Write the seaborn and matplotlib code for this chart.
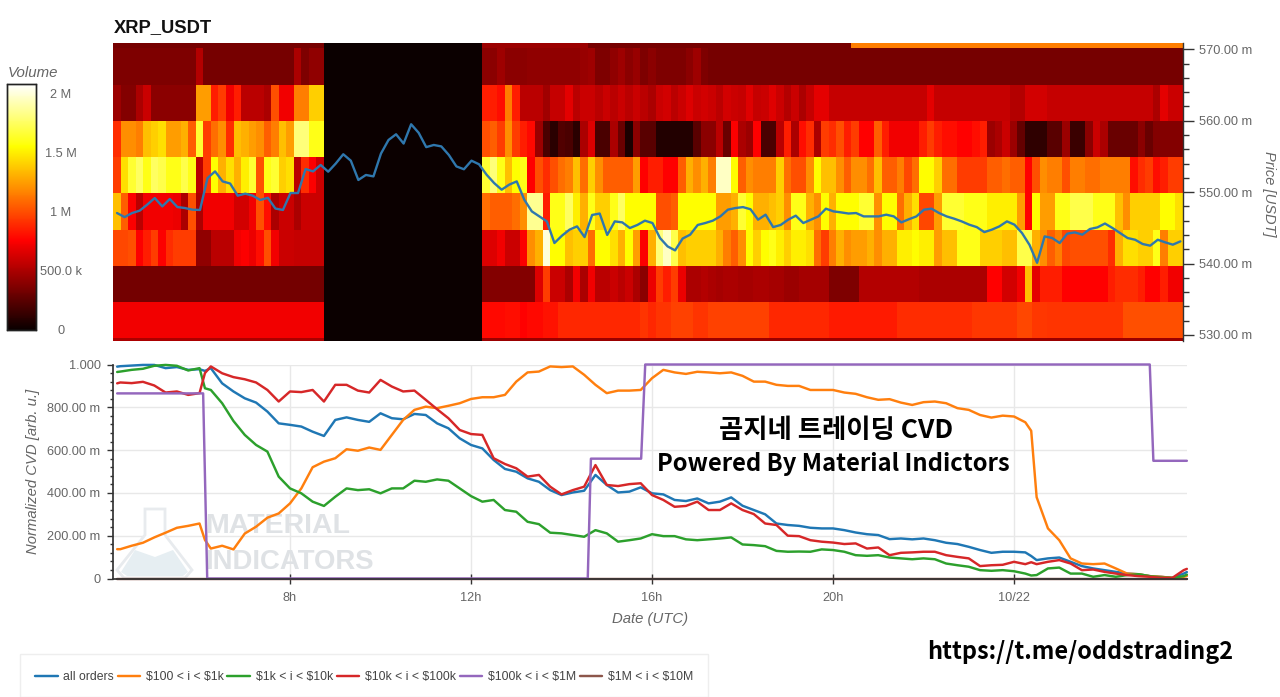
import numpy as np
import pandas as pd
import matplotlib
matplotlib.use("Agg")
import matplotlib.pyplot as plt
from matplotlib.patches import Polygon, Rectangle
from matplotlib.ticker import MultipleLocator
import seaborn as sns

W, H = 1280, 697

# ---- heatmap, volume in millions, one list per price row (top to bottom), 142 ten minute columns
gap = [0.0] * 21

left_0 = [.34] * 28
left_1 = [.36] * 11 + [.52] + [.34] * 12 + [.5, .36, .42, .42]
left_2 = [.45, .38, .38, .5, .6] + [.4] * 6 + [1.25, 1.25, .85, .95, .72, .85, .55, .55, .55, .5, 1.0, .72, .72, 1.15, 1.15, 1.4, 1.4]
left_3 = [.9, 1.2, 1.2, 1.15, 1.35, 1.4, 1.45, 1.25, 1.25, 1.3, 1.05, 1.65, .95, 1.1, 1.2, .9, 1.35, 1.3, 1.25, 1.2, 1.05, 1.15, 1.35, 1.25, 1.8, 1.8, 1.6, 1.6]
left_4 = [.95, 1.45, 1.65, 1.75, 1.6, 1.75, 1.7, 1.6, 1.6, 1.7, 1.6, .55, .95, 1.55, 1.3, 1.45, 1.3, 1.5, 1.65, 1.0, 1.6, 1.65, 1.4, 1.45, .55, .9, .75, .6]
left_5 = [1.35, 1.05, .75, .55, .72, .72, .72, .72, .7, .5, 1.0, .5, .72, .72, .72, .72, .62, .62, .72, 1.0, .8, .5, .6, .6, .5, .6, .6, .6]
left_6 = [.98, .98, 1.0, .75, .85, .95, .75, .9, .95, .95, .95, .42, .42, .55, .55, .55, .72, .75, .7, .8, 1.0, .72, .6, .6, .58, .58, .58, .58]
left_7 = [.33] * 28
left_8 = [.72] * 28
left_9 = [.5] * 28

right_0 = [.45] * 14 + [.34] * 35 + [1.15] * 44
right_1 = [.4, .4, .46, .4, .4, .4, .42, .42, .42, .42, .42, .42, .42, .44, .46, .36, .36, .42, .46, .4, .44, .36, .4, .36, .36, .36, .36, .4, .46, .36] + [.34] * 16 + [.34] * 47
right_2 = [.85, .85, .8, 1.15, .85, .55, .55, .55, .47, .58, .58, .68, .55, .6, .6, .55, .6, .55, .6, .55, .6, .55, .5, .6, .62, .55, .6, .65, .6, .62, .6, .55, .62, .6, .58, .66, .58, .6, .66, .6, .52, .6, .5, .58, .68, .68] \
    + [.58] * 13 + [.68] + [.58] * 10 + [.52, .52, .62, .62, .62] + [.58] * 14 + [.5, .68, .6, .6]
right_3 = [1.0, 1.05, .95, 1.2, .95, .85, .78, .45, .2, .1, .22, .2, .1, .5, .65, .2, .2, .5, .3, .05, .4, .25, .25, .08, .08, .08, .08, .08, .25, .4, .4, .55, .3, .75, .5, .45, .76, .2, .2, .55, .85, .5, .8, .9, .5, .95] \
    + [.9, 1.0, .85, .95, .76, .76, 1.05, .85, .72, .72, .72, .72, .85, .95, .85, .8, .8, .76, .76, .8, .85, .45, .5, .6, .45, .28, .12, .12, .12, .25, .25, .45, .15, .15, .4, .6, .5, .3, .3, .3, .3, .4, .3, .38, .38, .38, .38]
right_4 = [1.65, 1.8, 1.6, 1.35, 1.55, 1.6, .76, 1.0, .9, 1.0, 1.1, 1.15, 1.35, 1.1, 1.4, 1.2, 1.05, 1.05, 1.05, 1.05, 1.25, .76, .85, .85, .76, .76, 1.05, 1.3, 1.2, 1.3, 1.15, 1.95, 1.95, 1.55, 1.05, 1.2, 1.15, 1.15, 1.15, 1.4, 1.1, 1.0, 1.0, 1.2, 1.55, 1.35] \
    + [1.35, 1.2, 1.05, 1.2, 1.2, 1.1, 1.35, 1.05, 1.05, 1.15, .98, 1.1, 1.55, 1.55, 1.4, 1.1, 1.1, .95, .95, .95, .95, 1.05, 1.05, 1.1, 1.05, 1.05, .76, 1.0, 1.2, 1.15, 1.15, 1.0, 1.15, 1.15, 1.1, 1.1, 1.15, 1.15, 1.15, 1.15, .8, .9, .95, .8, .85, .95, .95]
right_5 = [1.1, 1.05, 1.05, 1.05, 1.1, 1.2, 1.85, 1.85, .85, 1.6, 1.6, 1.75, 1.5, 1.3, 1.6, 1.4, 1.4, 1.6, 1.75, 1.55, 1.55, 1.55, 1.55, 1.0, 1.0, 1.05, 1.55, 1.55, 1.55, 1.55, 1.55, 1.25, 1.25, 1.3, 1.65, 1.55, 1.3, 1.3, 1.35, 1.4, 1.2, 1.6, 1.6, 1.3, 1.2, 1.55] \
    + [1.3, 1.55, 1.55, 1.55, 1.65, 1.65, 1.2, 1.55, 1.55, 1.1, 1.3, 1.45, .98, .98, 1.25, 1.65, 1.65, 1.65, 1.6, 1.6, 1.6, 1.5, 1.5, 1.5, 1.5, 1.25, .76, 1.55, 1.25, 1.25, 1.6, 1.6, 1.7, 1.7, 1.7, 1.6, 1.6, 1.6, 1.35, 1.2, 1.4, 1.4, 1.4, 1.4, 1.55, 1.55, 1.45]
right_6 = [.65, .65, .72, .6, .6, .75, 1.2, 1.3, 2.0, 1.55, 1.55, 1.35, 1.4, 1.4, 1.1, 1.55, 1.55, 1.45, 1.3, 1.55, 1.25, .75, 1.3, 1.8, 1.95, 1.7, 1.35, 1.4, 1.4, 1.4, 1.4, 1.3, 1.15, 1.05, 1.2, 1.55, 1.4, 1.55, 1.6, 1.5, 1.4, 1.5, 1.5, 1.45, 1.1, .95] \
    + [1.15, 1.3, 1.2, 1.25, 1.25, 1.3, 1.2, 1.3, 1.3, 1.5, 1.5, 1.55, 1.5, 1.5, 1.25, 1.35, 1.35, 1.6, 1.6, 1.6, 1.4, 1.4, 1.4, 1.35, 1.35, 1.7, 1.7, 1.3, 1.2, 1.05, 1.15, .98, 1.0, 1.0, 1.0, 1.0, 1.0, .9, 1.3, 1.45, 1.45, 1.4, 1.4, 1.6, 1.15, 1.4, 1.4]
right_7 = [.38] * 7 + [.65, .95, .6, .6, .5, .72, .5, .72, .55, .55, .6, .55, .6, .5, .4, .7, .95, .85, .95, .7] \
    + [.5, .5, .52, .5, .48, .5, .5, .48, .48, .5, .5, .48, .48, .45, .45, .48, .48, .48, .48] \
    + [.36] * 4 + [.52] * 8 + [.5] * 9 + [.76, .76, .62, .62, .72, 1.35, .68, .85, .85, .85] + [.76] * 6 + [.85, .9, .9, .9, .85, .76, .76, .85, .72, .72]
right_8 = [.78, .78, .78, .8, .8, .76, .78, .78, .82, .82] + [.88] * 11 + [.92, .88, .92, .92, .96, .96, .96, .92, .92] + [.96] * 8 + [.88] * 8 \
    + [.84] * 9 + [.9] * 10 + [.93] * 6 + [.98, .98, .93, .93] + [.92] * 10 + [1.0] * 8
right_9 = [.45] * 93

lefts = [left_0, left_1, left_2, left_3, left_4, left_5, left_6, left_7, left_8, left_9]
rights = [right_0, right_1, right_2, right_3, right_4, right_5, right_6, right_7, right_8, right_9]
volume = pd.DataFrame([a + gap + b for a, b in zip(lefts, rights)])

# ---- price line, one value every 10 min from 4.18h
price_start = 4.177
price = [547.07, 546.5, 547.07, 547.4, 548.24, 549.17, 548.0, 549.03, 547.91, 547.77, 547.54, 547.5, 551.97, 552.9, 551.5,
         551.2, 549.5, 549.78, 549.5, 548.9, 549.2, 547.7, 547.5, 549.87, 549.87, 553.23, 552.9, 553.8, 552.86,
         554.0, 555.3, 554.4, 551.7, 552.4, 552.2, 555.4, 557.3, 558.1, 556.8, 559.5, 558.3, 556.3, 556.6, 556.4, 555.2,
         553.6, 553.2, 554.4, 553.9,
         552.44, 551.27, 550.34, 551.04, 551.5, 548.94, 547.3, 546.6, 545.9, 542.87, 543.9, 544.74, 545.2, 543.7, 546.8,
         547.0, 544.0, 545.9, 545.76, 544.97, 545.4, 546.0, 545.67, 543.57, 542.4, 541.84, 543.5, 544.04, 545.4, 545.67,
         546.0, 546.6, 547.54, 547.77, 547.9, 547.6, 546.14, 546.84, 545.1, 545.4, 546.14, 546.7, 545.67, 546.14, 546.6,
         547.68, 547.3, 547.16, 547.0, 547.07, 546.6, 546.6, 546.6, 546.84, 546.6, 545.76, 546.2, 546.6, 547.54, 547.68,
         547.07, 546.6, 546.28, 545.9, 545.44, 545.1, 544.4, 544.74, 545.2, 545.9, 545.44, 544.27, 542.6, 540.1, 543.8,
         543.57, 542.87, 544.18, 544.36, 544.04, 544.83, 545.06, 545.6, 544.97, 544.27, 543.57, 543.33, 542.73, 542.5,
         543.33, 542.96, 542.64, 543.1]
price_hours = [price_start + i / 6 for i in range(len(price))]

# ---- CVD lines
cvd_hours = sorted(list(np.arange(4.25, 27.76, 0.25)) + [4.18, 6.12, 24.38, 27.82])
cvd_all = [.99, .992, .995, .998, .998, .983, .988, .975, .978, .97,
           .983, .912, .874, .842, .822, .78, .725, .718, .71, .686, .666, .741, .753, .741, .732, .772, .749, .744, .769, .764, .725, .702, .655, .624,
           .608, .554, .512, .499, .468, .452, .413, .39, .402, .41, .484, .437, .402, .406, .426, .398,
           .393, .367, .362, .374, .351, .359, .379, .34, .32, .3, .257, .25, .246, .237, .234, .234,
           .226, .215, .207, .203, .184, .187, .183, .187, .179, .167, .161, .148, .133, .12, .125, .125, .122, .105,
           .086, .094, .098, .078, .058, .047, .039, .031, .023, .02, .011, .008, .002, .023, .03]
cvd_100 = [.137, .137, .153, .167, .192, .214, .237, .246, .257, .18,
           .14, .153, .136, .21, .242, .284, .304, .351, .421, .52, .546, .562, .604, .597, .612, .601, .671, .741, .788, .803, .796, .807, .819, .839,
           .847, .847, .858, .92, .963, .967, .991, .988, .991, .952, .905, .866, .878, .878, .881, .936,
           .975, .963, .956, .966, .963, .959, .963, .947, .92, .92, .905, .9, .9, .881, .881, .881,
           .869, .863, .847, .835, .838, .822, .811, .824, .827, .819, .796, .788, .764, .752, .761, .757, .73, .69,
           .38, .234, .179, .094, .07, .067, .07, .047, .023, .02, .011, .008, .003, .008, .012]
cvd_1k = [.965, .967, .975, .98, .994, .998, .994, .972, .983, .889,
          .881, .819, .736, .671, .624, .593, .476, .421, .398, .359, .339, .382, .421, .413, .417, .398, .421, .421, .457, .452, .463, .457, .421, .385,
          .359, .367, .32, .312, .265, .254, .214, .211, .203, .195, .226, .211, .172, .179, .187, .207,
          .198, .198, .183, .179, .183, .187, .192, .159, .156, .151, .129, .125, .126, .125, .136, .133,
          .125, .109, .106, .109, .098, .094, .09, .094, .09, .07, .062, .055, .039, .036, .039, .034, .023, .014,
          .016, .047, .051, .023, .023, .008, .016, .008, .016, .02, .011, .005, .003, .011, .018]
cvd_10k = [.912, .916, .913, .919, .902, .869, .874, .858, .866, .96,
           .991, .959, .941, .931, .916, .881, .827, .874, .871, .881, .827, .905, .905, .878, .869, .928, .897, .874, .878, .835, .791, .749, .694, .675,
           .671, .562, .535, .515, .476, .484, .429, .393, .413, .429, .53, .437, .432, .441, .445, .39,
           .367, .335, .339, .359, .32, .32, .351, .32, .301, .257, .25, .2, .198, .179, .172, .168,
           .161, .164, .14, .145, .109, .12, .122, .125, .125, .109, .101, .094, .058, .062, .064, .078, .067, .076,
           .067, .078, .086, .07, .039, .042, .031, .023, .016, .011, .008, .003, .003, .039, .045]
cvd_1m = [0.0] * len(cvd_hours)

# purple steps are single jumps, so they keep their own time points
hours_100k = [4.18, 6.08, 6.17, 14.58, 14.65, 15.76, 15.85, 27.0, 27.08, 27.82]
cvd_100k = [.865, .865, 0, 0, .56, .56, 1.0, 1.0, .55, .55]

legend_names = ["all orders", r"\$100 < i < \$1k", r"\$1k < i < \$10k", r"\$10k < i < \$100k", r"\$100k < i < \$1M", r"\$1M < i < \$10M"]
legend_colors = ["#1f77b4", "#ff7f0e", "#2ca02c", "#d62728", "#9467bd", "#8c564b"]

# y ticks
price_ticks = [530, 540, 550, 560, 570]
cvd_ticks = [0, .2, .4, .6, .8, 1.0]
cvd_labels = ["0", "200.00 m", "400.00 m", "600.00 m", "800.00 m", "1.000"]
time_ticks = [8, 12, 16, 20, 24]
time_labels = ["8h", "12h", "16h", "20h", "10/22"]
volume_ticks = [0, .5, 1, 1.5, 2]
volume_labels = ["0", "500.0 k", "1 M", "1.5 M", "2 M"]

sns.set_theme(style="white")
plt.rcParams["font.family"] = ["Liberation Sans", "DejaVu Sans"]
gray = "#666666"


def box(l, t, r, b):
    return [l / W, 1 - b / H, (r - l) / W, (b - t) / H]


fig = plt.figure(figsize=(W / 100, H / 100), dpi=100)

# heatmap + colorbar
ax_heat = fig.add_axes(box(113, 43, 1183, 341))
cax = fig.add_axes(box(7, 84, 36, 330))
sns.heatmap(volume, ax=ax_heat, cmap="hot", vmin=0, vmax=2.08, cbar_ax=cax,
            xticklabels=False, yticklabels=False, rasterized=True)
ax_heat.set_ylim(9.07, 0.85)
ax_heat.set_xlabel("")
ax_heat.set_ylabel("")
ax_heat.tick_params(length=0)

cax.yaxis.set_ticks_position("right")
cax.set_yticks(volume_ticks)
cax.set_yticklabels(volume_labels, ha="center", color=gray, fontsize=9.2)
cax.tick_params(axis="y", which="major", direction="in", length=4, width=1.2, color="#111111", pad=18, right=True, left=False)
for s in cax.spines.values():
    s.set_visible(True)
    s.set_color("#222222")
    s.set_linewidth(1)
fig.text(8 / W, 1 - 73 / H, "Volume", style="italic", color=gray, fontsize=10.8, va="center")
fig.text(114 / W, 1 - 28 / H, "XRP_USDT", weight="bold", color="#111111", fontsize=13.2, va="center")

# price line over the heatmap
ax_price = fig.add_axes(box(113, 43, 1183, 341), facecolor="none")
sns.lineplot(x=price_hours, y=price, ax=ax_price, color="#2f77ad", linewidth=1.7, estimator=None, clip_on=False)
ax_price.set_xlim(4.088, 27.735)
ax_price.set_ylim(529.15, 570.88)
ax_price.set_xticks([])
ax_price.yaxis.tick_right()
ax_price.set_yticks(price_ticks)
ax_price.set_yticklabels([f"{p}.00 m" for p in price_ticks], color=gray, fontsize=9.2)
ax_price.yaxis.set_minor_locator(MultipleLocator(2))
ax_price.tick_params(axis="y", which="major", direction="out", length=8, width=1, color="#333333", pad=3.5, right=True, left=False)
ax_price.tick_params(axis="y", which="minor", direction="out", length=4.5, width=1, color="#333333", right=True, left=False)
for side in ["left", "top", "bottom"]:
    ax_price.spines[side].set_visible(False)
ax_price.spines["right"].set_visible(True)
ax_price.spines["right"].set_color("#333333")
ax_price.spines["right"].set_linewidth(1)
fig.text(1269 / W, 1 - 194 / H, "Price [USDT]", style="italic", rotation=270, color=gray, fontsize=10.5, ha="center", va="center")

# CVD panel
ax_cvd = fig.add_axes(box(113, 364.5, 1187, 578.5))
frames = []
for name, xs, ys in zip(legend_names,
                        [cvd_hours, cvd_hours, cvd_hours, cvd_hours, hours_100k, cvd_hours],
                        [cvd_all, cvd_100, cvd_1k, cvd_10k, cvd_100k, cvd_1m]):
    frames.append(pd.DataFrame({"hours": xs, "cvd": ys, "series": name}))
cvd_df = pd.concat(frames, ignore_index=True)
sns.lineplot(data=cvd_df, x="hours", y="cvd", hue="series", hue_order=legend_names, palette=legend_colors,
             ax=ax_cvd, linewidth=1.75, estimator=None, zorder=3)
for line in ax_cvd.get_lines():
    line.set_clip_on(False)
ax_cvd.get_lines()[5].set_zorder(2.5)
ax_cvd.set_xlim(4.088, 27.823)
ax_cvd.set_ylim(0, 1)
ax_cvd.grid(True, color="#e8e8e8", linewidth=1)
ax_cvd.set_axisbelow(True)
ax_cvd.set_xticks(time_ticks)
ax_cvd.set_xticklabels(time_labels, color=gray, fontsize=9.2)
ax_cvd.set_yticks(cvd_ticks)
ax_cvd.set_yticklabels(cvd_labels, color=gray, fontsize=9.2)
ax_cvd.yaxis.set_minor_locator(MultipleLocator(0.04))
ax_cvd.tick_params(axis="y", which="major", direction="out", length=4, width=1, color="#333333", pad=5, left=True)
ax_cvd.tick_params(axis="y", which="minor", direction="out", length=2.5, width=1, color="#333333", left=True)
ax_cvd.tick_params(axis="x", direction="inout", length=7, width=1, color="#333333", pad=6, bottom=True)
ax_cvd.spines["top"].set_visible(False)
ax_cvd.spines["right"].set_visible(False)
ax_cvd.spines["left"].set_color("#333333")
ax_cvd.spines["bottom"].set_color("#333333")
ax_cvd.spines["bottom"].set_zorder(6)
ax_cvd.set_xlabel("Date (UTC)", style="italic", color=gray, fontsize=10.7, labelpad=6)
ax_cvd.set_ylabel("Normalized CVD [arb. u.]", style="italic", color=gray, fontsize=10.7, labelpad=5)

# legend
handles, labels = ax_cvd.get_legend_handles_labels()
ax_cvd.get_legend().remove()
fig.add_artist(Rectangle((20 / W, 0), 688 / W, 43 / H, transform=fig.transFigure, fc="white", ec="#eeeeee", lw=1))
leg = fig.legend(handles, labels, ncol=6, loc="center", bbox_to_anchor=(364 / W, 1 - 677 / H), frameon=False,
                 fontsize=8.85, handlelength=1.85, handletextpad=0.45, columnspacing=0.3, borderpad=0)
for t in leg.get_texts():
    t.set_color("#444444")

# watermark behind the lines
wm = "#dfe2e5"
fig_tf = fig.transFigure


def pts(xy):
    return [(x / W, 1 - y / H) for x, y in xy]


ax_cvd.add_patch(Polygon(pts([(145, 509), (165, 509), (165, 535), (192, 570), (185, 578), (124, 578), (117, 570), (145, 535)]),
                         closed=True, transform=fig_tf, fc="white", ec="#e8ebee", lw=2, zorder=1, clip_on=False))
ax_cvd.add_patch(Polygon(pts([(135, 550), (155, 557), (173, 550), (188, 572), (183, 576), (127, 576), (121, 572)]),
                         closed=True, transform=fig_tf, fc="#e6eef2", ec="none", zorder=1, clip_on=False))
ax_cvd.text(205 / W, 1 - 526 / H, "MATERIAL", transform=fig_tf, color=wm, fontsize=20.5, weight="bold", va="center", zorder=1)
ax_cvd.text(205 / W, 1 - 562 / H, "INDICATORS", transform=fig_tf, color=wm, fontsize=19.8, weight="bold", va="center", zorder=1)

# captions on top
cap = ["Noto Sans CJK KR", "DejaVu Sans"]
fig.text(836 / W, 1 - 430 / H, "곰지네 트레이딩 CVD", family=cap, weight="bold", color="black", fontsize=19, ha="center", va="center")
fig.text(833 / W, 1 - 463.5 / H, "Powered By Material Indictors", family=cap, weight="bold", color="black", fontsize=17.1, ha="center", va="center")
fig.text(1080 / W, 1 - 652 / H, "https://t.me/oddstrading2", family=cap, weight="bold", color="black", fontsize=16.9, ha="center", va="center")

fig.savefig("out.png", dpi=100)
